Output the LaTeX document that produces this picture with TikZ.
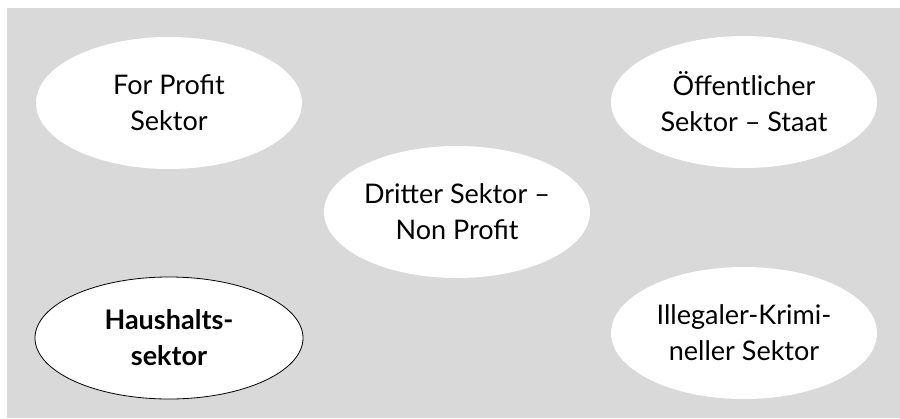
\documentclass[tikz,border=0pt]{standalone}
\usepackage{fontspec}
\setmainfont{Lato}
\usetikzlibrary{shapes.geometric}
\definecolor{bggray}{HTML}{D9D9D9}
\tikzset{
  sector/.style={ellipse, fill=white, minimum width=266pt, minimum height=132pt, inner sep=0pt,
    align=center, font=\fontsize{27}{36}\selectfont, text=black},
  framed/.style={draw=black, line width=0.8pt}
}
\begin{document}
\begin{tikzpicture}[x=1pt,y=-1pt]
\useasboundingbox (0,0) rectangle (900,418);
\fill[bggray] (7,8) rectangle (900,418);
\node[sector] (forprofit) at (169,103) {For Profit\\Sektor};
\node[sector] (staat) at (744,102) {Öffentlicher\\Sektor – Staat};
\node[sector] (dritter) at (457,212) {Dritter Sektor –\\Non Profit};
\node[sector, framed, minimum height=122pt, minimum width=268pt, font=\fontsize{27}{36}\selectfont\bfseries] (haushalt) at (169,338) {Haushalts-\\sektor};
\node[sector] (illegal) at (744,333) {Illegaler-Krimi-\\neller Sektor};
\end{tikzpicture}
\end{document}
